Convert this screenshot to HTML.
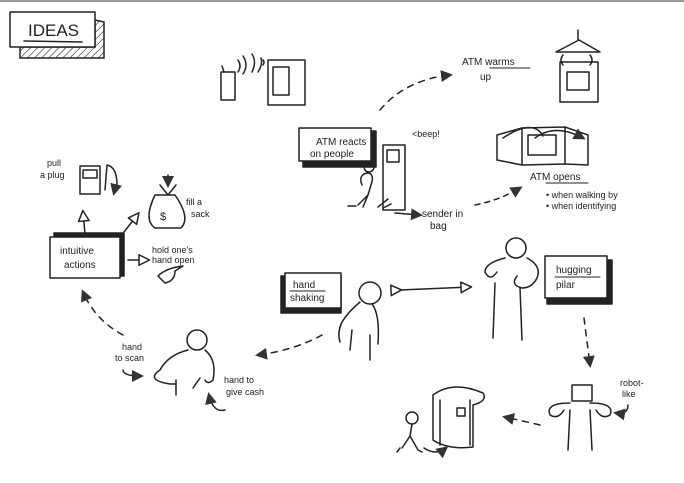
<!DOCTYPE html>
<html><head><meta charset="utf-8"><style>
html,body{margin:0;padding:0;background:#fff;}
svg{display:block;}
text{font-family:"Liberation Sans",sans-serif;fill:#222;}
</style></head><body>
<svg width="684" height="483" viewBox="0 0 684 483" xmlns="http://www.w3.org/2000/svg" fill="none" stroke="#222" stroke-width="1.5" stroke-linecap="round" stroke-linejoin="round">
<defs>
<pattern id="h" width="5" height="5" patternUnits="userSpaceOnUse" patternTransform="rotate(45)"><line x1="0" y1="0" x2="0" y2="5" stroke="#222" stroke-width="1.2"/></pattern>
<marker id="a" markerWidth="8" markerHeight="8" refX="6" refY="4" orient="auto"><path d="M0,0 L8,4 L0,8 z" fill="#333" stroke="none"/></marker>
<marker id="o" markerWidth="9" markerHeight="9" refX="7" refY="4.5" orient="auto"><path d="M1,1 L8,4.5 L1,8 z" fill="#fff" stroke="#222" stroke-width="1"/></marker>
</defs>
<rect x="0" y="0" width="684" height="2" fill="#999" stroke="none"/>
<!-- IDEAS -->
<path d="M95,20 L104,22 L104,58 L20,58 L20,47 L95,47 z" fill="url(#h)"/>
<rect x="10" y="12" width="85" height="35" fill="#fff"/>
<text x="28" y="36" font-size="17" stroke="none">IDEAS</text>
<line x1="24" y1="41" x2="82" y2="42"/>
<!-- phone & ATM -->
<rect x="221" y="72" width="14" height="28"/><line x1="224" y1="72" x2="222" y2="66"/>
<path d="M238,72 q4,-6 0,-12 M243,74 q6,-9 0,-18 M252,72 q5,-10 0,-18 M258,72 q5,-8 3,-14 M263,65 q2,-3 0,-5"/>
<rect x="268" y="60" width="37" height="45"/><rect x="273" y="67" width="16" height="28"/>
<!-- ATM reacts -->
<rect x="303" y="131" width="73" height="36" fill="#222"/>
<rect x="299" y="128" width="72" height="33" fill="#fff"/>
<text x="316" y="145" font-size="10" stroke="none">ATM reacts</text>
<text x="310" y="157" font-size="10" stroke="none">on people</text>
<rect x="383" y="145" width="22" height="65"/><rect x="387" y="150" width="12" height="12"/>
<text x="412" y="137" font-size="9" stroke="none">&lt;beep!</text>
<circle cx="369" cy="167" r="5"/><path d="M362,185 q-4,-10 5,-12 q8,0 4,12 l-3,10 l-10,10 M368,195 l-5,12 M356,206 l-8,0 M378,207 l10,-8 M383,208 l8,-4"/>
<path d="M395,213 L420,215" marker-end="url(#a)"/>
<text x="422" y="217" font-size="10" stroke="none">sender in</text>
<text x="430" y="229" font-size="10" stroke="none">bag</text>
<path d="M380,110 Q405,80 450,75" stroke-dasharray="6,6" marker-end="url(#a)"/>
<text x="462" y="65" font-size="10" stroke="none">ATM warms</text>
<text x="480" y="80" font-size="10" stroke="none">up</text>
<line x1="490" y1="68" x2="530" y2="68" stroke-width="1"/>
<!-- heater ATM -->
<path d="M556,52 L579,40 L600,52 z M578,40 L578,30"/>
<rect x="560" y="62" width="38" height="40"/><rect x="567" y="72" width="22" height="18"/>
<path d="M563,55 q-4,5 0,10 M590,55 q4,5 0,10"/>
<!-- ATM opens -->
<path d="M497,135 L522,128 L522,165 L497,160 z M522,128 L565,127 L565,164 L522,165 M565,127 L588,135 L588,165 L565,164"/>
<rect x="528" y="135" width="28" height="20"/>
<path d="M503,138 q30,-20 40,-2 M535,138 q20,-15 48,0" marker-end="url(#a)"/>
<path d="M475,205 Q500,200 520,188" stroke-dasharray="5,5" marker-end="url(#a)"/>
<text x="530" y="180" font-size="10" stroke="none">ATM opens</text>
<line x1="546" y1="183" x2="588" y2="183" stroke-width="1"/>
<text x="546" y="198" font-size="9" stroke="none">• when walking by</text>
<text x="546" y="209" font-size="9" stroke="none">• when identifying</text>
<!-- intuitive actions -->
<rect x="54" y="233" width="70" height="43" fill="#222"/>
<rect x="50" y="237" width="70" height="41" fill="#fff"/>
<text x="60" y="254" font-size="10" stroke="none">intuitive</text>
<text x="64" y="268" font-size="10" stroke="none">actions</text>
<path d="M85,234 L83,212" marker-end="url(#o)"/>
<path d="M124,232 L138,214" marker-end="url(#o)"/>
<path d="M128,260 L148,260" marker-end="url(#o)"/>
<text x="47" y="166" font-size="9" stroke="none">pull</text>
<text x="40" y="178" font-size="9" stroke="none">a plug</text>
<rect x="80" y="166" width="20" height="28"/><rect x="83" y="170" width="14" height="8"/>
<path d="M105,190 l2,-25 q10,2 10,20" /><path d="M116,185 l-2,8" marker-end="url(#a)"/>
<path d="M155,195 q-12,25 0,33 l26,0 q10,-10 -6,-33 z M160,185 l8,10 l8,-10"/>
<path d="M168,175 l0,10" marker-end="url(#a)"/>
<text x="160" y="220" font-size="11" stroke="none">$</text>
<text x="186" y="205" font-size="9" stroke="none">fill a</text>
<text x="191" y="217" font-size="9" stroke="none">sack</text>
<text x="152" y="253" font-size="9" stroke="none">hold one's</text>
<text x="152" y="263" font-size="9" stroke="none">hand open</text>
<path d="M158,276 q8,-8 25,-10 l-8,5 q0,10 -10,12 z"/>
<!-- hand to scan person -->
<path d="M123,335 Q95,320 83,292" stroke-dasharray="6,6" marker-end="url(#a)"/>
<circle cx="197" cy="340" r="10"/>
<path d="M188,350 q-20,5 -28,20 q-15,10 10,14 l5,0 M176,380 l0,15 M205,350 q12,10 8,30 q-5,5 -8,0 M200,378 l-7,10"/>
<text x="122" y="350" font-size="9" stroke="none">hand</text>
<text x="115" y="361" font-size="9" stroke="none">to scan</text>
<path d="M123,370 q0,6 18,6" marker-end="url(#a)"/>
<text x="224" y="383" font-size="9" stroke="none">hand to</text>
<text x="226" y="395" font-size="9" stroke="none">give cash</text>
<path d="M225,410 q-12,3 -16,-15" marker-end="url(#a)"/>
<!-- hand shaking -->
<rect x="281" y="276" width="60" height="37" fill="#222"/>
<rect x="285" y="273" width="56" height="35" fill="#fff"/>
<text x="293" y="288" font-size="10" stroke="none">hand</text>
<text x="290" y="301" font-size="10" stroke="none">shaking</text>
<line x1="290" y1="291" x2="325" y2="291" stroke-width="1"/>
<path d="M322,335 Q295,350 258,355" stroke-dasharray="6,6" marker-end="url(#a)"/>
<circle cx="370" cy="293" r="11"/>
<path d="M360,302 q-12,10 -18,20 q-5,10 -2,20 M352,330 l-2,20 M372,304 q8,10 6,40 M370,335 l0,25"/>
<path d="M400,290 L470,287" marker-start="url(#o)" marker-end="url(#o)"/>
<!-- hugging -->
<circle cx="516" cy="248" r="10"/>
<path d="M505,258 q-20,5 -20,14 q5,10 12,0 M527,258 q15,8 10,20 q-5,10 -15,10 q-12,-3 -5,-12 M495,283 l-2,55 M520,288 l2,52"/>
<rect x="547" y="260" width="65" height="44" fill="#222"/>
<rect x="545" y="256" width="62" height="42" fill="#fff"/>
<text x="556" y="273" font-size="10" stroke="none">hugging</text>
<text x="556" y="288" font-size="10" stroke="none">pilar</text>
<line x1="555" y1="277" x2="600" y2="277" stroke-width="1"/>
<path d="M584,318 L590,365" stroke-dasharray="6,6" marker-end="url(#a)"/>
<!-- robot -->
<rect x="572" y="385" width="20" height="16"/>
<path d="M570,403 q-25,0 -20,12 q8,5 14,-5 M590,403 q25,0 20,12 q-8,5 -14,-5 M570,410 l-2,40 M590,410 l2,40"/>
<text x="620" y="386" font-size="9" stroke="none">robot-</text>
<text x="622" y="397" font-size="9" stroke="none">like</text>
<path d="M628,405 q0,10 -12,8" marker-end="url(#a)"/>
<path d="M540,425 L505,417" stroke-dasharray="6,6" marker-end="url(#a)"/>
<!-- booth -->
<path d="M433,395 q20,-15 50,-2 q5,8 -10,12 l0,42 M433,395 l0,45 q15,10 40,7 M440,400 l0,45 M470,400 l0,45"/>
<rect x="457" y="408" width="8" height="8"/>
<circle cx="412" cy="418" r="6"/>
<path d="M412,424 l-2,12 l-8,12 M410,436 l8,14 M400,448 l-3,4 M418,450 l4,2"/>
<path d="M424,448 q12,8 22,0" marker-end="url(#a)"/>
</svg>
</body></html>
